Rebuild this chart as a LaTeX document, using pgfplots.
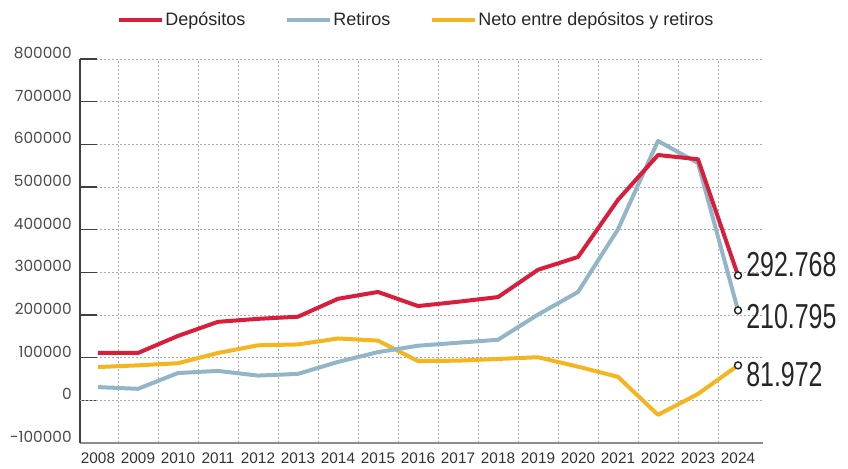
\documentclass[border=0pt]{standalone}
\usepackage{pgfplots}
\pgfplotsset{compat=1.18}
\usepackage{fontspec}
\setmainfont{Liberation Sans}
\newfontfamily\poppins{Poppins}
\newfontfamily\cond[FakeStretch=0.72]{Liberation Sans}
\definecolor{cred}{HTML}{D91E3C}
\definecolor{cblue}{HTML}{93B5C8}
\definecolor{cyel}{HTML}{F5B51E}
\definecolor{cgrid}{HTML}{AAAAAA}
\begin{document}
\begin{tikzpicture}
\useasboundingbox (-60pt,-18.75pt) rectangle (576pt,332.25pt);
\begin{axis}[
  at={(0,0)}, anchor=south west,
  scale only axis, width=512.25pt, height=288pt,
  xmin=-0.45, xmax=16.625, ymin=-100000, ymax=800000,
  clip=false,
  scaled y ticks=false,
  axis lines=left, axis line style={-},
  x axis line style={draw=black!45, line width=0.8pt},
  y axis line style={draw=black!75, line width=0.8pt},
  tick align=inside,
  xtick={0,...,16},
  xticklabels={2008,2009,2010,2011,2012,2013,2014,2015,2016,2017,2018,2019,2020,2021,2022,2023,2024},
  xtick style={draw=none},
  xticklabel style={font=\fontsize{11.5}{13}\selectfont, text=black!80, anchor=north, inner sep=0pt, yshift=-7pt},
  minor xtick={0.5,1.5,...,15.5},
  minor x tick style={draw=none},
  xminorgrids=true,
  minor grid style={draw=cgrid, dash pattern=on 1.5pt off 1.5pt, line width=0.5pt},
  ytick={-100000,0,100000,200000,300000,400000,500000,600000,700000,800000},
  yticklabels={-100000,0,100000,200000,300000,400000,500000,600000,700000,800000},
  yticklabel style={font=\poppins\fontsize{11.5}{13}\selectfont, text=black!70, anchor=east, inner sep=0pt, xshift=-6pt, yshift=4.5pt},
  major tick length=12.75pt,
  ytick style={draw=black!75, line width=0.8pt},
  ymajorgrids=true,
  major grid style={draw=cgrid, dash pattern=on 1.5pt off 1.5pt, line width=0.5pt},
  extra y ticks={0},
  extra y tick labels={},
  extra y tick style={grid style={draw=black!65, solid, line width=0.9pt}, major tick length=0pt},
  legend columns=3,
  legend style={draw=none, fill=none, at={(0.492,1)}, anchor=center, yshift=29pt,
    font=\fontsize{13.5}{16}\selectfont, text=black!85,
    nodes={inner sep=1pt},
    /tikz/every even column/.append style={column sep=29pt}},
  legend image code/.code={\draw[#1] (0pt,0pt) -- (32pt,0pt);},
]
\addlegendimage{color=cred, line width=3pt}
\addlegendentry{Depósitos}
\addlegendimage{color=cblue, line width=3pt}
\addlegendentry{Retiros}
\addlegendimage{color=cyel, line width=3pt}
\addlegendentry{Neto entre depósitos y retiros}

\addplot[forget plot, color=cyel, line width=3pt, line join=round] coordinates {
(0,78000) (1,82000) (2,87000) (3,111000) (4,129000) (5,131000) (6,145000) (7,140000)
(8,92000) (9,93000) (10,97000) (11,101000) (12,79000) (13,55000) (14,-34000) (15,15000) (16,81972)};
\addplot[forget plot, color=cblue, line width=3pt, line join=round] coordinates {
(0,31000) (1,27000) (2,64000) (3,69000) (4,58000) (5,62000) (6,90000) (7,113000)
(8,128000) (9,135000) (10,142000) (11,201000) (12,254000) (13,401000) (14,608000) (15,556000) (16,210795)};
\addplot[forget plot, color=cred, line width=3pt, line join=round] coordinates {
(0,111000) (1,111000) (2,151000) (3,184000) (4,191000) (5,196000) (6,238000) (7,254000)
(8,221000) (9,231000) (10,242000) (11,306000) (12,336000) (13,470000) (14,575000) (15,565000) (16,292768)};
\addplot[forget plot, only marks, mark=*, mark size=2.6pt, mark options={fill=white, draw=black!85, line width=1.1pt}] coordinates {
(16,292768) (16,210795) (16,81972)};

\node[anchor=west, inner sep=0pt, xshift=6pt, yshift=8.25pt, font=\cond\fontsize{26}{28}\selectfont, text=black!85] at (axis cs:16,292768) {292.768};
\node[anchor=west, inner sep=0pt, xshift=6pt, yshift=-4.5pt, font=\cond\fontsize{26}{28}\selectfont, text=black!85] at (axis cs:16,210795) {210.795};
\node[anchor=west, inner sep=0pt, xshift=6pt, yshift=-7pt, font=\cond\fontsize{26}{28}\selectfont, text=black!85] at (axis cs:16,81972) {81.972};
\end{axis}
\end{tikzpicture}
\end{document}
